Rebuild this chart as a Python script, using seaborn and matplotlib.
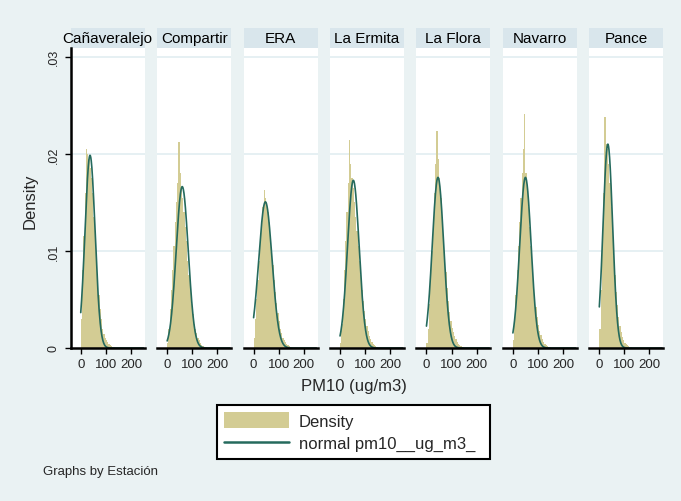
import numpy as np
import pandas as pd
import seaborn as sns
import matplotlib.pyplot as plt
from matplotlib.patches import Rectangle, Patch
from matplotlib.lines import Line2D

# stations (one panel each)
stations = ["Cañaveralejo", "Compartir", "ERA", "La Ermita", "La Flora", "Navarro", "Pance"]

# histogram bins of PM10 (ug/m3), width 5
bin_edges = list(range(0, 155, 5))

# density per bin
dens = {
    "Cañaveralejo": [.003, .008, .0115, .016, .0205, .020, .0195, .0185, .0175, .016,
                     .0135, .0115, .009, .007, .0055, .004, .003, .002, .0014, .001,
                     .0008, .0006, .0004, .0003, .0002, .0001, .0001, 0, 0, 0],
    "Compartir": [.0005, .002, .004, .006, .008, .0105, .013, .015, .017, .0212,
                  .018, .0165, .0155, .014, .0125, .011, .009, .0075, .006, .0045,
                  .0035, .0025, .002, .0015, .001, .0008, .0005, .0003, .0002, .0001],
    "ERA": [.001, .003, .005, .007, .009, .011, .013, .0145, .0163, .0155,
            .015, .014, .013, .0115, .010, .0085, .007, .0058, .0046, .0036,
            .0028, .002, .0015, .001, .0008, .0006, .0004, .0003, .0002, .0001],
    "La Ermita": [.0005, .0025, .005, .008, .011, .014, .017, .0214, .019, .0175,
                  .0165, .015, .0135, .012, .0105, .009, .0075, .006, .0048, .0038,
                  .003, .0023, .0017, .0012, .0009, .0006, .0004, .0003, .0002, .0001],
    "La Flora": [.0005, .002, .0045, .007, .010, .013, .016, .019, .0224, .0195,
                 .0175, .0155, .0135, .0115, .0095, .0078, .0062, .0048, .0037, .0028,
                 .0021, .0016, .0012, .0009, .0006, .0004, .0003, .0002, .0001, .0001],
    "Navarro": [.0008, .003, .0055, .008, .0105, .013, .0155, .018, .0205, .0241,
                .018, .0165, .0145, .0125, .0105, .0085, .007, .0055, .0042, .0032,
                .0024, .0018, .0013, .0009, .0006, .0004, .0003, .0002, .0001, .0001],
    "Pance": [.002, .006, .011, .016, .0238, .021, .0205, .019, .017, .0145,
              .012, .0095, .0075, .0058, .0044, .0032, .0023, .0016, .0011, .0008,
              .0005, .0004, .0003, .0002, .0001, .0001, 0, 0, 0, 0],
}

# normal fit per station (mean, sd)
mu = {"Cañaveralejo": 37, "Compartir": 60, "ERA": 47, "La Ermita": 53,
      "La Flora": 46, "Navarro": 50, "Pance": 34}
sd = {"Cañaveralejo": 20.1, "Compartir": 24.0, "ERA": 26.5, "La Ermita": 23.1,
      "La Flora": 22.7, "Navarro": 22.7, "Pance": 19.0}
pm_max = 250

BG = "#EAF2F3"
HEAD = "#D9E6EC"
GRID = "#E2EEF1"
KHAKI = "#D3CC94"
GREEN = "#256A5D"

sns.set_theme(style="white")
plt.rcParams["font.family"] = ["Liberation Sans", "DejaVu Sans"]

fig = plt.figure(figsize=(6.81, 5.02), dpi=100, facecolor=BG)
gs = fig.add_gridspec(1, 7, left=70.7 / 681, right=663.3 / 681,
                      bottom=1 - 349 / 502, top=1 - 49 / 502, wspace=12.4 / 74)

for i, st in enumerate(stations):
    ax = fig.add_subplot(gs[0, i])
    ax.set_facecolor("white")
    df = pd.DataFrame({"pm10": bin_edges[:-1], "dens": dens[st]})
    sns.histplot(data=df, x="pm10", weights="dens", bins=bin_edges, stat="count",
                 element="step", fill=True, color=KHAKI, alpha=1, linewidth=0, ax=ax)
    xs = np.linspace(0, pm_max, 300)
    ys = np.exp(-0.5 * ((xs - mu[st]) / sd[st]) ** 2) / (sd[st] * np.sqrt(2 * np.pi))
    sns.lineplot(x=xs, y=ys, color=GREEN, lw=1.2, ax=ax)

    ax.set_xlim(-40, 255)
    ax.set_ylim(0, 0.0309)
    for g in [0.01, 0.02, 0.03]:
        ax.axhline(g, color=GRID, lw=1.2, zorder=0)
    ax.set_xlabel("")
    ax.set_ylabel("")
    ax.set_xticks([0, 100, 200])
    ax.set_xticklabels(["0", "100", "200"], fontsize=9.5)
    ax.tick_params(axis="x", length=4, width=1, color="black", pad=3, direction="out",
                   bottom=True)
    for s in ["top", "right"]:
        ax.spines[s].set_visible(False)
    ax.spines["bottom"].set_color("black")
    ax.spines["bottom"].set_linewidth(1.8)
    if i == 0:
        ax.set_yticks([0, 0.01, 0.02, 0.03])
        ax.set_yticklabels(["0", ".01", ".02", ".03"], fontsize=9, rotation=90, va="center")
        ax.tick_params(axis="y", length=4, width=1, color="black", pad=4, left=True)
        ax.spines["left"].set_color("black")
        ax.spines["left"].set_linewidth(1.8)
    else:
        ax.set_yticks([])
        ax.spines["left"].set_visible(False)

    # panel header
    ax.add_patch(Rectangle((0, 1.0), 1, 20 / 300, transform=ax.transAxes,
                           facecolor=HEAD, edgecolor="none", clip_on=False))
    ax.text(0.5, 1 + 10 / 300, st, transform=ax.transAxes, ha="center", va="center",
            fontsize=11, color="black")

fig.text(354 / 681, 1 - 387 / 502, "PM10 (ug/m3)", ha="center", va="center", fontsize=12)
fig.text(30 / 681, 1 - 201 / 502, "Density", ha="center", va="center", rotation=90, fontsize=12)
fig.text(43 / 681, 1 - 472 / 502, "Graphs by Estación", ha="left", va="center", fontsize=9.5)

handles = [Patch(facecolor=KHAKI, edgecolor="none"),
           Line2D([0], [0], color=GREEN, lw=1.8)]
leg = fig.legend(handles, ["Density", "normal pm10__ug_m3_"], loc="lower left",
                 bbox_to_anchor=(217 / 681, 1 - 460 / 502, 273 / 681, 57 / 502),
                 mode="expand", fontsize=12, handlelength=3.85, handleheight=1.08,
                 labelspacing=0.36, borderpad=0.45, handletextpad=0.6,
                 borderaxespad=0, frameon=True, fancybox=False)
leg.get_frame().set_edgecolor("black")
leg.get_frame().set_linewidth(1.5)
leg.get_frame().set_facecolor("white")
leg.get_frame().set_alpha(1)

fig.savefig("out.png", dpi=100, facecolor=BG)
